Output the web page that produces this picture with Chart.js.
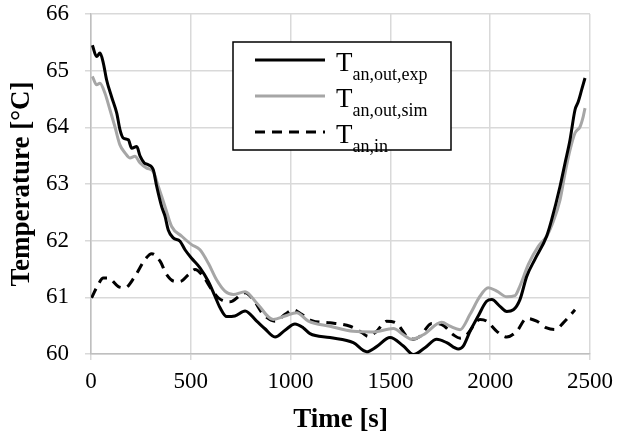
<!DOCTYPE html>
<html lang="en">
<head>
  <meta charset="UTF-8" />
  <title>Anode temperatures</title>
  <script src="https://cdn.jsdelivr.net/npm/chart.js"></script>
  <style>
    html, body { margin: 0; padding: 0; background: #fff; }
    #wrap { width: 618px; height: 436px; }
  </style>
</head>
<body>
  <div id="wrap"><canvas id="tempChart" width="618" height="436"></canvas></div>

  <script>
    // values
    const timeExp = [7, 28, 45, 62, 78, 103, 129, 145, 162, 187, 204, 229, 246, 267, 287, 312, 329, 354, 371, 387,
      412, 446, 471, 504, 546, 588, 621, 646, 680, 721, 772, 830, 870, 922, 972, 1022, 1064, 1097, 1197, 1314,
      1381, 1431, 1498, 1565, 1615, 1673, 1732, 1782, 1840, 1865, 1899, 1940, 1982, 2008, 2049, 2083, 2116, 2149,
      2183, 2224, 2283, 2308, 2350, 2375, 2400, 2425, 2441, 2458, 2475];
    const tempExp = [65.45, 65.25, 65.31, 65.13, 64.84, 64.54, 64.25, 63.96, 63.81, 63.78, 63.63, 63.66, 63.49, 63.37, 63.34, 63.25, 62.96, 62.6, 62.43, 62.19,
      62.05, 61.99, 61.84, 61.69, 61.52, 61.28, 61.02, 60.82, 60.66, 60.67, 60.76, 60.58, 60.45, 60.3, 60.42, 60.53, 60.46, 60.36, 60.29, 60.2,
      60.04, 60.13, 60.29, 60.14, 59.99, 60.11, 60.26, 60.2, 60.09, 60.14, 60.4, 60.67, 60.93, 60.96, 60.84, 60.75, 60.78, 60.96,
      61.37, 61.67, 62.08, 62.37, 62.96, 63.37, 63.78, 64.31, 64.45, 64.66, 64.87];

    const timeSim = [7, 28, 45, 70, 95, 120, 145, 170, 195, 220, 246, 279, 312, 337, 371, 404, 454, 504, 546, 588,
      629, 671, 713, 772, 830, 913, 972, 1030, 1089, 1197, 1314, 1414, 1515, 1565, 1607, 1665, 1757, 1799, 1849, 1899,
      1949, 1990, 2033, 2083, 2124, 2149, 2191, 2241, 2283, 2316, 2350, 2375, 2400, 2425, 2450, 2466, 2475];
    const tempSim = [64.9, 64.75, 64.78, 64.6, 64.31, 64.01, 63.69, 63.55, 63.46, 63.49, 63.37, 63.28, 63.22, 62.96, 62.6, 62.25, 62.08, 61.93, 61.84, 61.6,
      61.31, 61.11, 61.05, 61.1, 60.9, 60.61, 60.67, 60.73, 60.58, 60.49, 60.4, 60.39, 60.45, 60.34, 60.26, 60.34, 60.56, 60.49, 60.43, 60.7,
      61.02, 61.17, 61.11, 61.01, 61.03, 61.2, 61.58, 61.9, 62.08, 62.34, 62.72, 63.19, 63.6, 63.9, 64.01, 64.19, 64.34];

    const timeIn = [3, 28, 62, 87, 137, 170, 220, 271, 304, 346, 379, 421, 446, 488, 521, 560, 604, 638, 696, 772,
      813, 863, 922, 972, 1014, 1056, 1106, 1197, 1298, 1356, 1389, 1431, 1481, 1532, 1582, 1615, 1648, 1707, 1757, 1815,
      1849, 1882, 1949, 1982, 2033, 2083, 2133, 2183, 2233, 2283, 2325, 2366, 2425];
    const tempIn = [60.99, 61.17, 61.34, 61.34, 61.19, 61.17, 61.37, 61.67, 61.77, 61.64, 61.4, 61.28, 61.28, 61.4, 61.49, 61.38, 61.14, 60.99, 60.92, 61.08,
      60.96, 60.7, 60.58, 60.7, 60.78, 60.7, 60.59, 60.55, 60.49, 60.38, 60.31, 60.4, 60.58, 60.54, 60.31, 60.26, 60.31, 60.54, 60.52, 60.34,
      60.28, 60.34, 60.61, 60.58, 60.4, 60.3, 60.4, 60.63, 60.58, 60.46, 60.43, 60.55, 60.78];

    const legendMain = ['T', 'T', 'T'];
    const legendSub = ['an,out,exp', 'an,out,sim', 'an,in'];

    const toPoints = (xs, ys) => xs.map((x, i) => ({ x: x, y: ys[i] }));

    const serif = '"Liberation Serif", "Times New Roman", serif';

    // legend with subscripts, drawn on the canvas
    const subLegend = {
      id: 'subLegend',
      afterDraw(chart) {
        const ctx = chart.ctx;
        const box = { x: 233, y: 42, w: 218, h: 108 };
        ctx.save();
        ctx.fillStyle = '#fff';
        ctx.fillRect(box.x, box.y, box.w, box.h);
        ctx.strokeStyle = '#000';
        ctx.lineWidth = 1.5;
        ctx.strokeRect(box.x, box.y, box.w, box.h);
        chart.data.datasets.forEach((ds, i) => {
          const ly = 60 + i * 36;
          ctx.beginPath();
          ctx.strokeStyle = ds.borderColor;
          ctx.lineWidth = ds.borderWidth;
          ctx.setLineDash(ds.borderDash || []);
          ctx.moveTo(255, ly);
          ctx.lineTo(325, ly);
          ctx.stroke();
          ctx.setLineDash([]);
          ctx.fillStyle = '#000';
          ctx.textBaseline = 'alphabetic';
          ctx.textAlign = 'left';
          ctx.font = '27px ' + serif;
          ctx.fillText(legendMain[i], 336, ly + 11);
          const tw = ctx.measureText(legendMain[i]).width;
          ctx.font = '18px ' + serif;
          ctx.fillText(legendSub[i], 336 + tw, ly + 20);
        });
        ctx.restore();
      }
    };

    new Chart(document.getElementById('tempChart'), {
      type: 'line',
      data: {
        datasets: [
          {
            label: 'T_an,out,exp',
            data: toPoints(timeExp, tempExp),
            borderColor: '#000000',
            borderWidth: 3,
            pointRadius: 0,
            cubicInterpolationMode: 'monotone',
            order: 1
          },
          {
            label: 'T_an,out,sim',
            data: toPoints(timeSim, tempSim),
            borderColor: '#a6a6a6',
            borderWidth: 3,
            pointRadius: 0,
            cubicInterpolationMode: 'monotone',
            order: 2
          },
          {
            label: 'T_an,in',
            data: toPoints(timeIn, tempIn),
            borderColor: '#000000',
            borderWidth: 3,
            borderDash: [10, 7],
            pointRadius: 0,
            cubicInterpolationMode: 'monotone',
            order: 3
          }
        ]
      },
      options: {
        responsive: false,
        animation: false,
        layout: { padding: 0 },
        plugins: {
          legend: { display: false },
          tooltip: { enabled: false }
        },
        scales: {
          x: {
            type: 'linear',
            min: 0,
            max: 2500,
            ticks: { stepSize: 500, color: '#000', padding: 8, font: { family: serif, size: 23 },
              callback: v => String(v) },
            grid: { color: '#d9d9d9', lineWidth: 1.5, tickLength: 6 },
            border: { color: '#bfbfbf', width: 1.5 },
            title: {
              display: true,
              text: 'Time [s]',
              color: '#000',
              padding: { top: 10, bottom: 0 },
              font: { family: serif, size: 27, weight: 'bold' }
            },
            afterFit: s => { s.height = 82; s.paddingLeft = 0; s.paddingRight = 28; }
          },
          y: {
            min: 60,
            max: 66,
            ticks: { stepSize: 1, color: '#000', padding: 16, font: { family: serif, size: 23 },
              callback: v => String(v) },
            grid: { color: '#d9d9d9', lineWidth: 1.5, tickLength: 6 },
            border: { color: '#bfbfbf', width: 1.5 },
            title: {
              display: true,
              text: 'Temperature [°C]',
              color: '#000',
              padding: { top: 6, bottom: 0 },
              font: { family: serif, size: 27, weight: 'bold' }
            },
            afterFit: s => { s.width = 91; s.paddingTop = 14; s.paddingBottom = 0; }
          }
        }
      },
      plugins: [subLegend]
    });
  </script>
</body>
</html>
